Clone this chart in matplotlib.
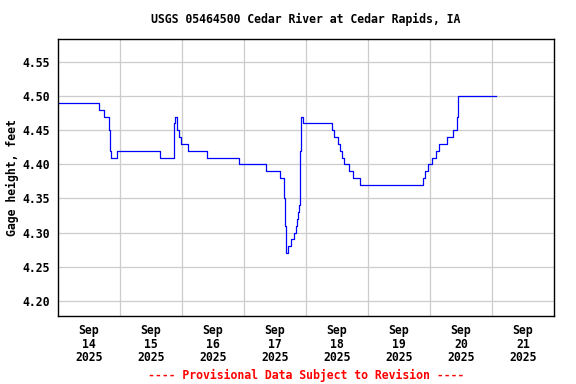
import matplotlib
matplotlib.use("Agg")
import matplotlib.pyplot as plt
from matplotlib.ticker import FixedLocator, NullFormatter

# gage height readings, hours since Sep 14 2025 00:00 (step changes)
hours = [0.0, 16.0, 17.8, 19.9, 20.2, 20.6, 22.7, 39.5, 45.0, 45.4, 45.9,
         46.8, 47.5, 50.4, 57.7, 69.9, 80.4, 86.1, 87.6, 87.9, 88.1, 89.0,
         90.0, 91.5, 92.2, 92.6, 93.0, 93.4, 93.8, 94.2, 95.0, 105.9, 106.9,
         108.3, 109.2, 109.9, 110.7, 112.8, 114.1, 116.9, 141.4, 142.2, 143.2,
         144.8, 146.3, 147.5, 150.7, 153.0, 154.3, 155.0, 169.4]
gage = [4.49, 4.48, 4.47, 4.45, 4.42, 4.41, 4.42, 4.41, 4.46, 4.47, 4.45,
        4.44, 4.43, 4.42, 4.41, 4.40, 4.39, 4.38, 4.35, 4.31, 4.27, 4.28,
        4.29, 4.30, 4.31, 4.32, 4.33, 4.34, 4.42, 4.47, 4.46, 4.45, 4.44,
        4.43, 4.42, 4.41, 4.40, 4.39, 4.38, 4.37, 4.38, 4.39, 4.40,
        4.41, 4.42, 4.43, 4.44, 4.45, 4.47, 4.50, 4.50]

day_labels = ["Sep\n14\n2025", "Sep\n15\n2025", "Sep\n16\n2025", "Sep\n17\n2025",
              "Sep\n18\n2025", "Sep\n19\n2025", "Sep\n20\n2025", "Sep\n21\n2025"]
y_ticks = [4.20, 4.25, 4.30, 4.35, 4.40, 4.45, 4.50, 4.55]

plt.rcParams["font.family"] = "DejaVu Sans Mono"
plt.rcParams["font.weight"] = "bold"
fs = 8.3

fig = plt.figure(figsize=(5.76, 3.84), dpi=100)
ax = fig.add_axes([58 / 576, 1 - 316 / 384, 496 / 576, 277 / 384])

days = [h / 24 for h in hours]
ax.plot(days, gage, drawstyle="steps-post", color="#0000ff", lw=0.9)

ax.set_xlim(0, 8)
ax.set_ylim(4.1775, 4.584)

ax.xaxis.set_major_locator(FixedLocator(range(1, 8)))
ax.xaxis.set_major_formatter(NullFormatter())
ax.xaxis.set_minor_locator(FixedLocator([i + 0.5 for i in range(8)]))
ax.set_xticklabels(day_labels, minor=True, fontsize=fs, fontweight="bold",
                   linespacing=1.02)
ax.set_yticks(y_ticks)
ax.set_yticklabels([f"{v:.2f}" for v in y_ticks], fontsize=fs, fontweight="bold")
ax.tick_params(axis="both", which="both", length=0)
ax.tick_params(axis="x", which="minor", pad=6)
ax.tick_params(axis="y", pad=6)

ax.grid(True, which="major", color="#cccccc", lw=0.9)
ax.set_axisbelow(True)
for s in ax.spines.values():
    s.set_color("black")
    s.set_linewidth(1.0)

fig.text(12 / 576, 1 - 178 / 384, "Gage height, feet", rotation=90,
         ha="center", va="center", fontsize=fs, fontweight="bold")
fig.text(306 / 576, 1 - 19 / 384, "USGS 05464500 Cedar River at Cedar Rapids, IA",
         ha="center", va="center", fontsize=fs, fontweight="bold")
fig.text(306 / 576, 1 - 375 / 384, "---- Provisional Data Subject to Revision ----",
         ha="center", va="center", fontsize=fs, fontweight="bold", color="#ff0000")

fig.savefig("out.png", dpi=100)
